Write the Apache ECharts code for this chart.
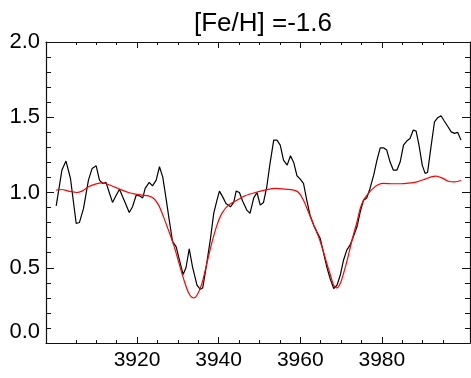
<!DOCTYPE html>
<html>
<head>
<meta charset="utf-8">
<script src="https://cdn.jsdelivr.net/npm/echarts@6/dist/echarts.min.js"></script>
<style>
  html, body { margin: 0; padding: 0; background: #fff; }
  #chart { width: 471px; height: 378px; }
</style>
</head>
<body>
<div id="chart"></div>
<script>
// observed spectrum (black)
const obsWave = [3900.2, 3901.6, 3902.6, 3903.7, 3905.1, 3905.9, 3906.9, 3908.1, 3909.0, 3910.0,
  3910.8, 3911.6, 3912.4, 3913.2, 3914.0, 3914.9, 3915.7, 3917.0, 3918.1, 3918.9,
  3919.8, 3920.6, 3921.4, 3922.0, 3923.0, 3923.8, 3924.7, 3925.5, 3926.3, 3927.1,
  3927.9, 3928.7, 3929.6, 3930.4, 3931.3, 3932.0, 3932.8, 3933.6, 3934.7, 3935.5,
  3936.1, 3936.9, 3938.0, 3938.8, 3939.6, 3940.2, 3941.0, 3941.8, 3942.9, 3943.7,
  3944.3, 3945.1, 3945.9, 3946.9, 3947.7, 3948.6, 3949.4, 3950.2, 3951.0, 3951.8,
  3952.6, 3953.5, 3954.3, 3955.1, 3955.9, 3956.8, 3957.6, 3958.4, 3959.2, 3960.0,
  3960.8, 3961.6, 3962.4, 3963.3, 3964.1, 3964.9, 3965.7, 3966.5, 3967.3, 3968.2,
  3969.0, 3969.8, 3970.6, 3971.4, 3972.2, 3973.0, 3973.9, 3974.7, 3975.5, 3976.3,
  3977.1, 3978.0, 3978.8, 3979.6, 3980.4, 3981.2, 3982.0, 3982.8, 3983.7, 3984.5,
  3985.3, 3986.1, 3986.9, 3987.7, 3988.4, 3989.1, 3989.9, 3990.6, 3991.2, 3992.1,
  3992.9, 3993.7, 3994.5, 3995.3, 3996.2, 3997.0, 3997.8, 3998.6, 3999.4];
const obsFlux = [0.911, 1.149, 1.209, 1.093, 0.794, 0.801, 0.894, 1.082, 1.160, 1.177,
  1.082, 1.060, 1.067, 1.000, 0.934, 0.982, 1.022, 0.938, 0.867, 0.905,
  0.982, 0.978, 0.964, 1.027, 1.067, 1.044, 1.082, 1.171, 1.104, 0.964,
  0.816, 0.676, 0.639, 0.550, 0.455, 0.500, 0.625, 0.506, 0.384, 0.357,
  0.366, 0.495, 0.694, 0.861, 0.949, 1.009, 0.971, 0.927, 0.905, 0.934,
  1.009, 1.000, 0.942, 0.883, 0.861, 0.964, 1.000, 0.916, 0.934, 1.038,
  1.193, 1.348, 1.348, 1.315, 1.215, 1.182, 1.244, 1.200, 1.111, 1.089,
  1.060, 0.949, 0.849, 0.783, 0.738, 0.694, 0.600, 0.506, 0.430, 0.362,
  0.384, 0.450, 0.550, 0.617, 0.650, 0.705, 0.772, 0.871, 0.949, 0.964,
  1.027, 1.115, 1.215, 1.297, 1.297, 1.282, 1.204, 1.149, 1.149, 1.204,
  1.315, 1.342, 1.359, 1.415, 1.408, 1.315, 1.182, 1.127, 1.133, 1.315,
  1.470, 1.497, 1.510, 1.475, 1.437, 1.403, 1.393, 1.399, 1.348];

// synthetic spectrum (red)
const modelWave = [3900.2, 3901.6, 3903.2, 3905.3, 3906.5, 3908.1, 3909.8, 3911.4, 3913.0, 3914.7,
  3916.3, 3917.9, 3919.6, 3921.2, 3922.8, 3924.1, 3925.3, 3926.5, 3927.7, 3929.0,
  3930.2, 3931.4, 3932.7, 3933.9, 3934.7, 3935.9, 3937.1, 3938.4, 3939.6, 3940.8,
  3942.4, 3944.5, 3946.5, 3949.0, 3951.4, 3953.9, 3956.3, 3958.4, 3959.6, 3960.8,
  3962.0, 3963.3, 3964.5, 3965.7, 3966.6, 3967.3, 3968.2, 3969.0, 3969.8, 3970.6,
  3971.4, 3972.2, 3973.0, 3973.9, 3974.7, 3975.5, 3976.7, 3978.0, 3979.2, 3980.4,
  3982.5, 3984.5, 3986.5, 3988.6, 3990.6, 3992.1, 3993.3, 3994.7, 3996.3, 3997.8,
  3999.4];
const modelFlux = [1.016, 1.020, 1.009, 1.000, 1.009, 1.038, 1.056, 1.064, 1.053, 1.034,
  1.016, 1.000, 0.989, 0.982, 0.978, 0.960, 0.916, 0.838, 0.750, 0.650,
  0.539, 0.428, 0.330, 0.299, 0.317, 0.395, 0.528, 0.672, 0.783, 0.861,
  0.916, 0.949, 0.978, 1.000, 1.016, 1.027, 1.022, 1.016, 1.000, 0.949,
  0.871, 0.783, 0.705, 0.605, 0.520, 0.461, 0.384, 0.366, 0.395, 0.461,
  0.539, 0.628, 0.716, 0.805, 0.894, 0.949, 0.994, 1.031, 1.053, 1.060,
  1.058, 1.058, 1.062, 1.071, 1.089, 1.104, 1.109, 1.097, 1.075, 1.071,
  1.080];

const xMajor = [3920, 3940, 3960, 3980];
const xMinor = [3905, 3910, 3915, 3925, 3930, 3935, 3945, 3950, 3955, 3965, 3970, 3975, 3985, 3990, 3995];
const titleText = '[Fe/H] =-1.6';

const xMin = 3897.7, xMax = 4001.6;
const font = 'Liberation Sans, Arial, Helvetica, sans-serif';
const axisColor = '#111';

const xAxisBase = (pos, ticks, len, showLine, showLabel) => ({
  type: 'value',
  position: pos,
  min: xMin,
  max: xMax,
  axisLine: { show: showLine, onZero: false, lineStyle: { color: axisColor, width: 1.2 } },
  axisTick: { show: true, inside: true, length: len, customValues: ticks, lineStyle: { color: axisColor } },
  axisLabel: {
    show: showLabel,
    customValues: ticks,
    margin: 7,
    color: '#000',
    fontSize: 21,
    fontFamily: font,
    formatter: v => String(Math.round(v))
  },
  splitLine: { show: false }
});

const yAxisBase = (pos, showLabel) => ({
  type: 'value',
  position: pos,
  min: 0,
  max: 2,
  interval: 0.5,
  axisLine: { show: true, onZero: false, lineStyle: { color: axisColor, width: 1.2 } },
  axisTick: { show: true, inside: true, length: 8, lineStyle: { color: axisColor } },
  minorTick: { show: true, splitNumber: 5, length: 5, lineStyle: { color: axisColor } },
  axisLabel: {
    show: showLabel,
    margin: 6,
    color: '#000',
    fontSize: 22,
    fontFamily: font,
    verticalAlignMinLabel: 'bottom',
    formatter: v => v.toFixed(1)
  },
  splitLine: { show: false },
  minorSplitLine: { show: false }
});

const chart = echarts.init(document.getElementById('chart'));
chart.setOption({
  animation: false,
  backgroundColor: '#fff',
  title: {
    text: titleText,
    left: 258,
    textAlign: 'center',
    top: 6,
    textStyle: { fontSize: 26, fontWeight: 'normal', color: '#000', fontFamily: font }
  },
  grid: { left: 46, top: 42, right: 1, bottom: 35, containLabel: false, outerBoundsMode: 'none' },
  xAxis: [
    xAxisBase('bottom', xMajor, 6, true, true),
    xAxisBase('bottom', xMinor, 3, false, false),
    xAxisBase('top', xMajor, 6, true, false),
    xAxisBase('top', xMinor, 3, false, false)
  ],
  yAxis: [
    yAxisBase('left', true),
    yAxisBase('right', false)
  ],
  series: [
    {
      name: 'observed',
      type: 'line',
      xAxisIndex: 0,
      yAxisIndex: 0,
      showSymbol: false,
      lineStyle: { color: '#000', width: 1.2 },
      data: obsWave.map((w, i) => [w, obsFlux[i]])
    },
    {
      name: 'model',
      type: 'line',
      xAxisIndex: 0,
      yAxisIndex: 0,
      showSymbol: false,
      smooth: 0.3,
      lineStyle: { color: '#ff0000', width: 1.2 },
      data: modelWave.map((w, i) => [w, modelFlux[i]])
    }
  ]
});
</script>
</body>
</html>
